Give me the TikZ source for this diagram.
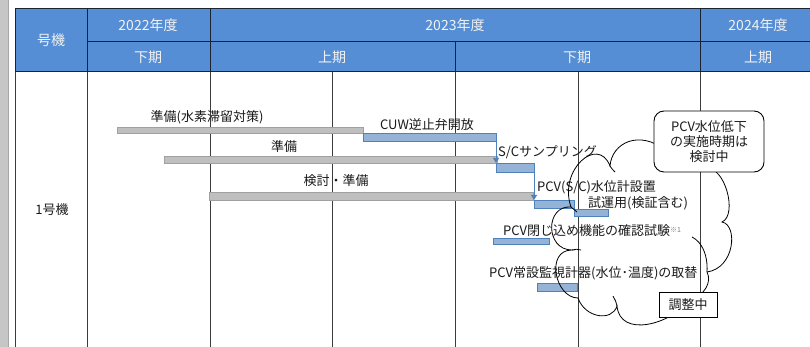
\documentclass[tikz,border=0pt]{standalone}
\usepackage{fontspec}
\setmainfont{Noto Sans CJK JP}
\usetikzlibrary{arrows.meta}
\definecolor{hdr}{RGB}{85,142,213}
\definecolor{hdrtext}{RGB}{242,242,242}
\definecolor{barblue}{RGB}{149,179,215}
\definecolor{barblueline}{RGB}{79,129,189}
\definecolor{bargray}{RGB}{191,191,191}
\definecolor{bargrayline}{RGB}{160,160,160}
\definecolor{gridline}{RGB}{60,60,60}
\definecolor{hdrline}{RGB}{25,35,50}
\definecolor{txt}{RGB}{26,26,26}
\tikzset{
  graybar/.style={draw=bargrayline, fill=bargray, line width=0.8pt, inner sep=0pt, outer sep=0pt, anchor=north west, rectangle},
  bluebar/.style={draw=barblueline, fill=barblue, line width=0.8pt, inner sep=0pt, outer sep=0pt, anchor=north west, rectangle},
  hdrlabel/.style={text=hdrtext, font=\fontsize{14}{16}\selectfont, inner sep=0pt},
  lbl/.style={text=txt, font=\fontsize{13}{15}\selectfont, inner sep=0pt},
  flow/.style={draw=barblueline, line width=1pt, -{Triangle[length=5pt,width=6pt]}},
  gridv/.style={draw=gridline, line width=0.9pt},
  hdrl/.style={draw=hdrline, line width=1pt},
  cloudline/.style={draw=black, line width=0.8pt}
}
\begin{document}
\begin{tikzpicture}[x=1pt,y=-1pt]
\useasboundingbox (0,0) rectangle (810,347);
\fill[white] (0,0) rectangle (810,347);
% left gray strip
\fill[gray!45] (0,0) rectangle (8,347);
\draw[gray!70, line width=1pt] (8.5,0) -- (8.5,347);
% header
\fill[hdr] (15,9) rectangle (810,72);
% body grid
\draw[gridv] (332,72) -- (332,347);
\draw[gridv] (578,72) -- (578,347);
\draw[gridv] (15,72) -- (15,347);
\draw[gridv] (87,72) -- (87,347);
\draw[gridv] (210,72) -- (210,347);
\draw[gridv] (455,72) -- (455,347);
\draw[gridv] (700,72) -- (700,347);
% header lines
\draw[hdrl] (15,9) -- (810,9);
\draw[hdrl] (87,42) -- (810,42);
\draw[hdrl] (15,72) -- (810,72);
\draw[hdrl] (15,9) -- (15,72);
\draw[hdrl] (87,9) -- (87,72);
\draw[hdrl] (210,9) -- (210,72);
\draw[hdrl] (455,42) -- (455,72);
\draw[hdrl] (700,9) -- (700,72);
% header labels
\node[hdrlabel] (hno) at (51,40) {号機};
\node[hdrlabel] (h22) at (148,25) {2022年度};
\node[hdrlabel] (h23) at (455,25) {2023年度};
\node[hdrlabel] (h24) at (758,25) {2024年度};
\node[hdrlabel] (s22) at (148,57) {下期};
\node[hdrlabel] (s23a) at (332,57) {上期};
\node[hdrlabel] (s23b) at (577,57) {下期};
\node[hdrlabel] (s24) at (758,57) {上期};
% row label
\node[lbl] (unit) at (52,210) {1号機};
% bars
\node[graybar, minimum width=246pt, minimum height=6.5pt] (g1) at (117,127) {};
\node[bluebar, minimum width=133pt, minimum height=8pt] (b1) at (363,133) {};
\node[graybar, minimum width=333pt, minimum height=7pt] (g2) at (164,156) {};
\node[bluebar, minimum width=38pt, minimum height=9pt] (b2) at (496,163) {};
\node[graybar, minimum width=324pt, minimum height=8pt] (g3) at (209,192) {};
\node[bluebar, minimum width=40pt, minimum height=8pt] (b3) at (534,200) {};
\node[bluebar, minimum width=34pt, minimum height=7pt] (b4) at (574,209) {};
\node[bluebar, minimum width=56pt, minimum height=6.5pt] (b5) at (493,238) {};
\node[bluebar, minimum width=40pt, minimum height=8pt] (b6) at (537,283) {};
% flow arrows
\draw[flow] (b1.south east) -- (b2.north west);
\draw[flow] (b2.south east) -- (b3.north west);
% bar labels
\node[lbl] (t1) at (207,117) {準備(水素滞留対策)};
\node[lbl] (t2) at (427,125) {CUW逆止弁開放};
\node[lbl] (t3) at (284,147) {準備};
\node[lbl, anchor=west] (t4) at (498,152) {S/Cサンプリング};
\node[lbl] (t5) at (336,181) {検討・準備};
\node[lbl, anchor=west] (t6) at (537,187) {PCV(S/C)水位計設置};
\node[lbl, anchor=west] (t7) at (588,203) {試運用(検証含む)};
\node[lbl, anchor=west] (t8) at (503,231) {PCV閉じ込め機能の確認試験\textcolor{gray}{\raisebox{0.5ex}{\fontsize{7}{8}\selectfont ※1}}};
\node[lbl, anchor=west] (t9) at (489,273) {PCV常設監視計器(水位･温度)の取替};
% cloud (outline, no fill)
\draw[cloudline] (571,207)
  .. controls (558,170) and (598,135) .. (610,166)
  .. controls (612,142) and (640,130) .. (665,150)
  .. controls (680,125) and (700,130) .. (705,168)
  .. controls (725,165) and (738,215) .. (722,222)
  .. controls (738,225) and (735,268) .. (707,272)
  .. controls (712,282) and (705,295) .. (690,300)
  .. controls (670,325) and (620,338) .. (617,306)
  .. controls (612,322) and (585,318) .. (578,298)
  .. controls (555,298) and (545,250) .. (572,250)
  .. controls (545,250) and (545,205) .. (571,207) -- cycle;
% cloud inner arcs
\draw[cloudline] (692,237) .. controls (702,242) and (708,255) .. (707,272);
\draw[cloudline] (571,207) .. controls (573,209) and (575,210) .. (577,212);
\draw[cloudline] (572,250) .. controls (575,249) and (578,249) .. (581,250);
\draw[cloudline] (617,306) .. controls (616,302) and (615,299) .. (613,296);
\draw[cloudline] (610,166) .. controls (611,168) and (613,170) .. (615,172);
% boxes
\node[draw=black, fill=white, line width=0.9pt, rounded corners=10pt, minimum width=110pt, minimum height=61pt, inner sep=0pt, align=center, text=txt, font=\fontsize{13}{15}\selectfont] (note) at (709,141.5) {PCV水位低下\\の実施時期は\\検討中};
\node[draw=black, fill=white, line width=0.9pt, minimum width=58pt, minimum height=25pt, inner sep=0pt, text=txt, font=\fontsize{13}{15}\selectfont] (adj) at (688,304.5) {調整中};
\end{tikzpicture}
\end{document}
